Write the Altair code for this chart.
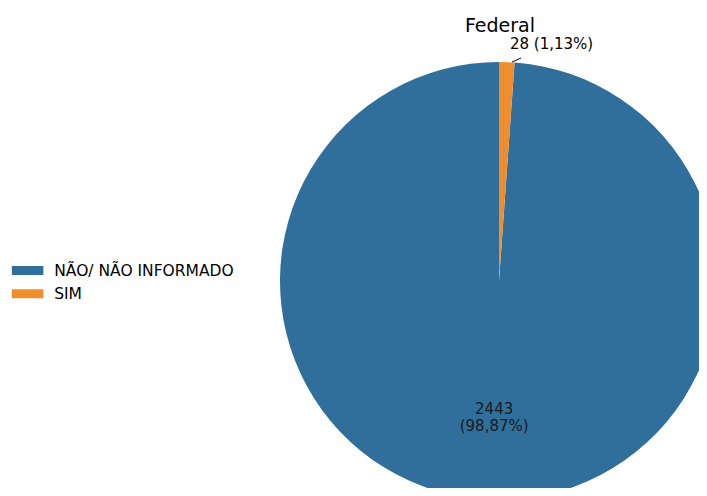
import altair as alt
import pandas as pd

categories = ["NÃO/ NÃO INFORMADO", "SIM"]
counts = [2443, 28]
pct_labels = ["98,87%", "1,13%"]
colors = ["#306f9b", "#f08d2d"]
title_text = "Federal"

df = pd.DataFrame({"categoria": categories, "n": counts, "pct": pct_labels})

CX, CY, R = 491, 273, 219

base = alt.Chart(df).encode(
    theta=alt.Theta("n:Q", stack=True),
    order=alt.Order("categoria:N", sort="descending"),
)

pie = base.mark_arc(radius=R).encode(
    x=alt.value(CX),
    y=alt.value(CY),
    color=alt.Color(
        "categoria:N",
        scale=alt.Scale(domain=categories, range=colors),
        legend=alt.Legend(
            title=None,
            orient="none",
            legendX=11.6,
            legendY=254.6,
            symbolType="M-2,-0.57H2V0.57H-2Z",
            symbolSize=248,
            symbolStrokeWidth=0,
            symbolOpacity=1,
            labelFont="DejaVu Sans",
            labelFontSize=15.5,
            labelColor="#000000",
            labelOffset=18.6,
            labelLimit=400,
            rowPadding=6.25,
            padding=0,
        ),
    ),
)

big_label = base.transform_calculate(
    lab="datum.categoria == 'SIM' ? '' : datum.n + '\\n(' + datum.pct + ')'"
).mark_text(
    radius=136, font="DejaVu Sans", fontSize=15, color="#1a1a1a",
    lineBreak="\n", lineHeight=17, baseline="middle", dy=-8,
).encode(x=alt.value(CX), y=alt.value(CY), text="lab:N")

small_label = base.transform_calculate(
    lab="datum.categoria == 'SIM' ? datum.n + ' (' + datum.pct + ')' : ''"
).mark_text(
    radius=240, font="DejaVu Sans", fontSize=15, color="#000000",
    baseline="middle", dx=44, dy=3,
).encode(x=alt.value(CX), y=alt.value(CY), text="lab:N")

leader = alt.Chart(df).mark_rule(color="#000000", strokeWidth=1).encode(
    x=alt.value(504), x2=alt.value(513), y=alt.value(54), y2=alt.value(50)
).transform_filter("datum.categoria == 'SIM'")

title = alt.Chart(df).mark_text(
    font="DejaVu Sans", fontSize=19, color="#000000", baseline="alphabetic"
).encode(x=alt.value(492), y=alt.value(24), text=alt.value(title_text)).transform_filter(
    "datum.categoria == 'SIM'"
)

chart = alt.layer(pie, big_label, small_label, leader, title).properties(
    width=691, height=480, padding=0, autosize=alt.AutoSizeParams(type="none")
).configure_view(stroke=None)

chart.save("out.html", embed_options={"renderer": "svg", "actions": False})
